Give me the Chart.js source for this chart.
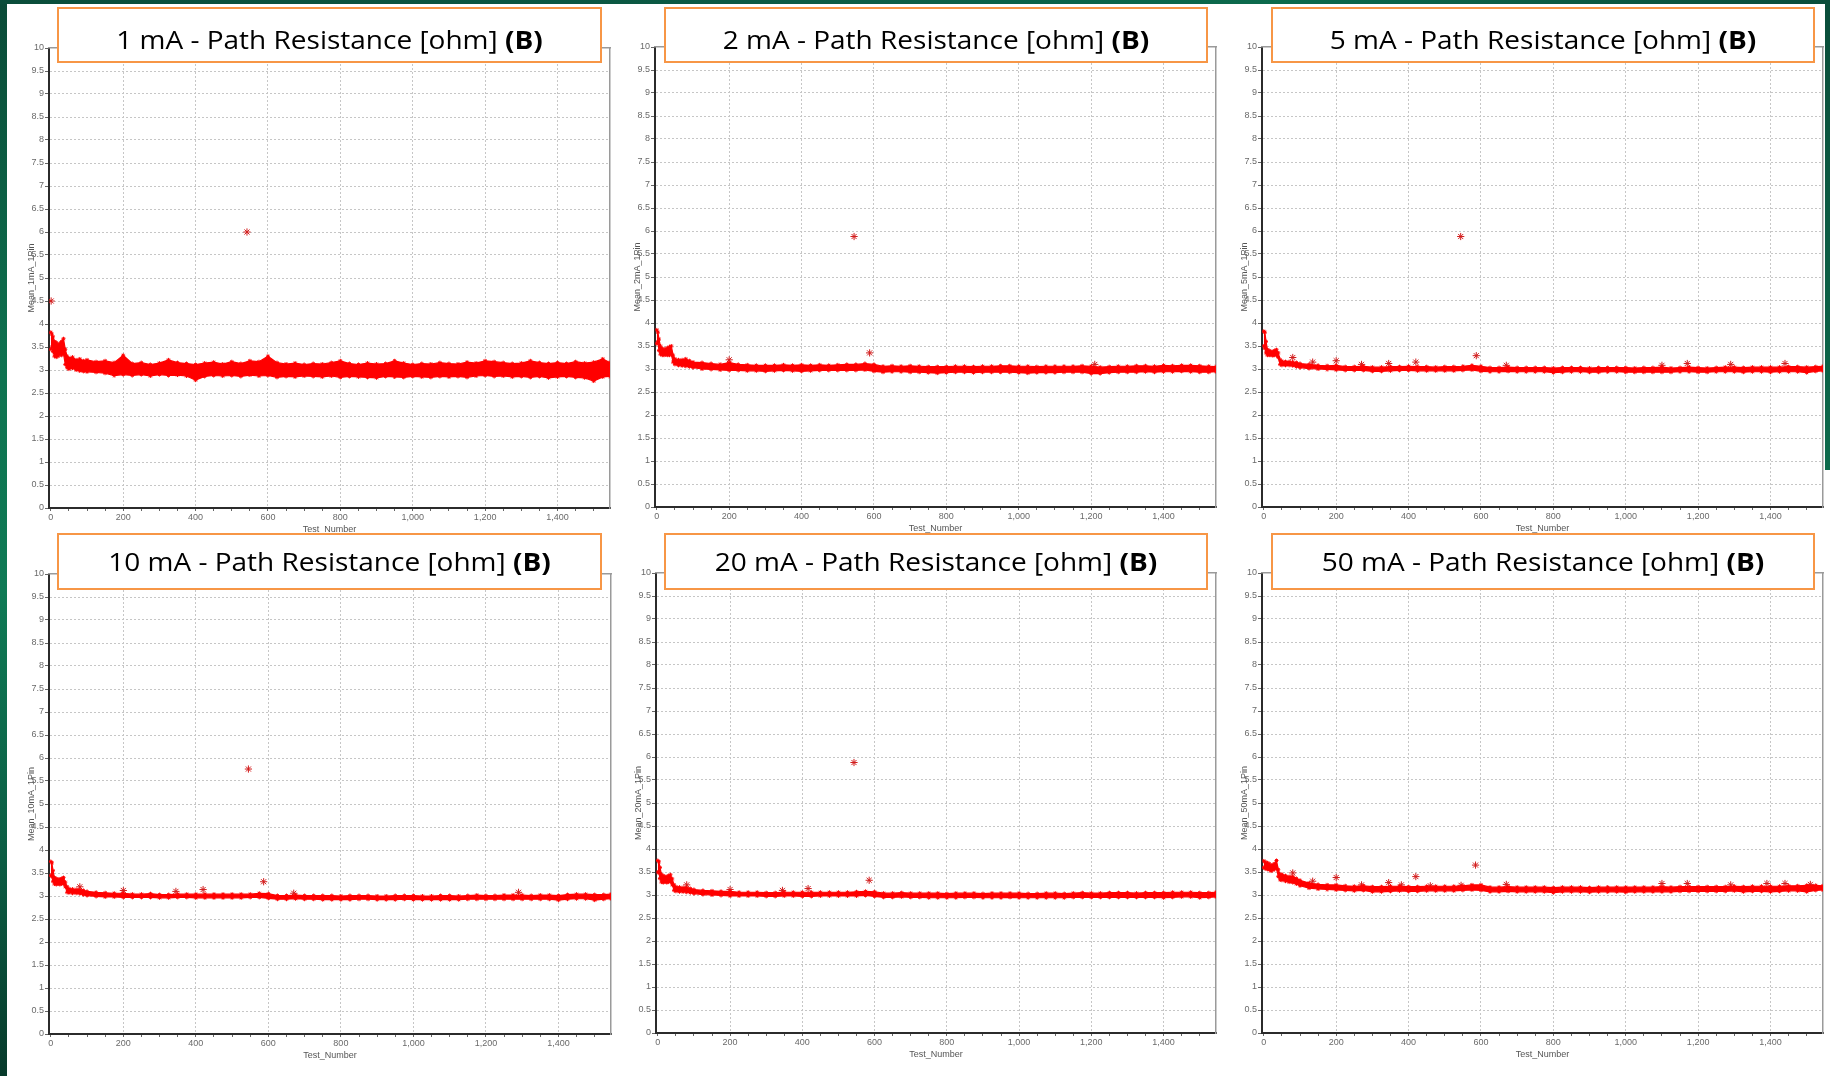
<!DOCTYPE html>
<html><head><meta charset="utf-8">
<script src="https://cdn.jsdelivr.net/npm/chart.js@4.4.1/dist/chart.umd.min.js"></script>
<style>
html,body{margin:0;padding:0;background:#fff;}
body{width:1830px;height:1076px;overflow:hidden;position:relative;}
.strip{position:absolute;z-index:5}
.cv{position:absolute;z-index:1}
.tbox{position:absolute;box-sizing:border-box;border:2px solid #f79646;background:#fff;z-index:3}
.ttext{position:absolute;left:0;right:0;text-align:center;font-family:"Open Sans",sans-serif;font-size:25px;line-height:25px;white-space:nowrap;color:#000;transform:scaleX(1.12);transform-origin:50% 50%}
.ttext b{font-weight:700}
</style></head><body>
<div class="strip" style="left:0;top:0;width:7px;height:1076px;background:linear-gradient(to bottom,#0a4a37 0%,#0e7350 35%,#0f7a55 55%,#0b5c43 80%,#073a2b 100%)"></div>
<div class="strip" style="left:0;top:0;width:1830px;height:4px;background:linear-gradient(to right,#0a4d3a,#0b5a44 40%,#0c6a4c 70%,#0a4d3a)"></div>
<div class="strip" style="left:1825px;top:0;width:5px;height:470px;background:linear-gradient(to bottom,#0a4d3a,#0d6a4c)"></div>
<script>
// ---------- DATA ----------
const PANEL_TITLES = ["1 mA", "2 mA", "5 mA", "10 mA", "20 mA", "50 mA"];
const Y_TITLES = ["Mean_1mA_1Pin", "Mean_2mA_1Pin", "Mean_5mA_1Pin", "Mean_10mA_1Pin", "Mean_20mA_1Pin", "Mean_50mA_1Pin"];
const X_TITLE = "Test_Number";
const Y_TICKS = [0,0.5,1,1.5,2,2.5,3,3.5,4,4.5,5,5.5,6,6.5,7,7.5,8,8.5,9,9.5,10];
const X_TICKS = [0,50,100,150,200,250,300,350,400,450,500,550,600,650,700,750,800,850,900,950,1000,1050,1100,1150,1200,1250,1300,1350,1400,1450,1500];
const X_LABEL_STEP = 200;

// Test numbers at which the red band's upper / lower edges were read
const X_TEST = [0,3,6,10,15,20,25,30,35,40,45,50,60,70,80,90,100,
  125,150,175,200,225,250,275,300,325,350,375,400,425,450,475,500,525,550,575,600,
  625,650,675,700,725,750,775,800,825,850,875,900,925,950,975,1000,1025,1050,1075,1100,
  1125,1150,1175,1200,1225,1250,1275,1300,1325,1350,1375,1400,1425,1450,1475,1500,1525,
  1545];

const HI_1MA = [3.82,3.78,3.72,3.62,3.60,3.55,3.58,3.62,3.68,3.45,3.30,3.26,3.28,3.22,3.24,3.20,3.22,
  3.18,3.20,3.16,3.32,3.14,3.16,3.12,3.15,3.22,3.16,3.14,3.12,3.15,3.17,3.13,3.18,3.14,3.20,3.18,3.30,
  3.16,3.13,3.15,3.12,3.14,3.13,3.16,3.20,3.14,3.12,3.15,3.13,3.14,3.20,3.15,3.12,3.14,3.13,3.16,3.14,
  3.13,3.17,3.15,3.20,3.18,3.16,3.14,3.15,3.20,3.16,3.14,3.16,3.14,3.18,3.15,3.17,3.24,
  3.16];
const LO_1MA = [3.45,3.50,3.40,3.30,3.28,3.30,3.34,3.32,3.36,3.12,3.05,3.02,3.04,3.00,2.98,2.97,2.96,
  2.95,2.93,2.88,2.90,2.88,2.90,2.87,2.90,2.88,2.89,2.87,2.78,2.86,2.88,2.87,2.88,2.86,2.89,2.87,2.88,
  2.84,2.86,2.85,2.87,2.86,2.85,2.87,2.84,2.86,2.85,2.84,2.83,2.86,2.85,2.84,2.86,2.85,2.84,2.86,2.85,
  2.86,2.84,2.87,2.88,2.86,2.87,2.85,2.86,2.84,2.86,2.83,2.85,2.86,2.84,2.83,2.76,2.85,
  2.86];
const OUT_1MA = [[1,4.5],[542,6.0]];

const HI_2MA = [3.85,3.80,3.65,3.50,3.45,3.42,3.44,3.46,3.48,3.50,3.30,3.22,3.20,3.20,3.22,3.18,3.15,
  3.14,3.12,3.10,3.14,3.10,3.09,3.08,3.08,3.08,3.09,3.08,3.09,3.08,3.09,3.08,3.09,3.10,3.10,3.12,3.10,
  3.06,3.07,3.06,3.07,3.06,3.05,3.05,3.05,3.06,3.06,3.05,3.06,3.06,3.07,3.07,3.06,3.06,3.05,3.06,3.06,
  3.06,3.06,3.07,3.06,3.04,3.05,3.06,3.06,3.07,3.07,3.06,3.08,3.07,3.08,3.08,3.07,3.06,
  3.05];
const LO_2MA = [3.55,3.60,3.40,3.32,3.30,3.30,3.31,3.30,3.30,3.32,3.15,3.10,3.08,3.07,3.06,3.05,3.03,
  3.00,2.99,2.98,2.97,2.97,2.96,2.96,2.95,2.96,2.97,2.96,2.95,2.96,2.97,2.97,2.97,2.97,2.97,2.98,2.95,
  2.93,2.94,2.94,2.93,2.93,2.92,2.91,2.92,2.93,2.93,2.92,2.93,2.93,2.93,2.93,2.92,2.91,2.92,2.92,2.92,
  2.93,2.93,2.93,2.90,2.90,2.92,2.93,2.93,2.93,2.94,2.93,2.94,2.94,2.95,2.94,2.93,2.93,
  2.94];
const OUT_2MA = [[545,5.88],[588,3.35],[200,3.2],[1210,3.1]];

const HI_5MA = [3.82,3.80,3.60,3.42,3.40,3.38,3.38,3.40,3.42,3.35,3.20,3.17,3.16,3.16,3.15,3.14,3.12,
  3.10,3.08,3.07,3.08,3.05,3.05,3.06,3.04,3.04,3.05,3.05,3.06,3.05,3.05,3.04,3.05,3.05,3.06,3.08,3.06,
  3.03,3.03,3.04,3.03,3.03,3.03,3.03,3.02,3.03,3.03,3.03,3.02,3.03,3.03,3.03,3.03,3.02,3.03,3.03,3.04,
  3.02,3.03,3.04,3.03,3.02,3.03,3.04,3.04,3.03,3.04,3.04,3.04,3.04,3.05,3.05,3.04,3.05,
  3.06];
const LO_5MA = [3.50,3.45,3.35,3.30,3.30,3.30,3.29,3.30,3.30,3.25,3.10,3.08,3.08,3.08,3.07,3.05,3.03,
  3.01,3.00,2.99,2.98,2.97,2.97,2.97,2.95,2.95,2.96,2.97,2.97,2.96,2.96,2.96,2.96,2.96,2.97,2.98,2.95,
  2.94,2.94,2.95,2.94,2.94,2.94,2.94,2.92,2.93,2.94,2.94,2.93,2.93,2.94,2.94,2.93,2.93,2.93,2.93,2.93,
  2.93,2.94,2.94,2.93,2.93,2.94,2.94,2.94,2.93,2.94,2.94,2.93,2.94,2.94,2.94,2.92,2.95,
  2.96];
const OUT_5MA = [[544,5.88],[587,3.29],[80,3.25],[135,3.15],[200,3.18],[270,3.1],[345,3.12],[420,3.15],[670,3.08],[1100,3.08],[1170,3.12],[1290,3.1],[1440,3.12]];

const HI_10MA = [3.75,3.72,3.55,3.40,3.38,3.36,3.37,3.38,3.40,3.30,3.20,3.16,3.15,3.14,3.14,3.12,3.10,
  3.08,3.07,3.06,3.06,3.04,3.04,3.05,3.03,3.03,3.04,3.04,3.04,3.04,3.04,3.04,3.04,3.04,3.04,3.06,3.05,
  3.01,3.01,3.02,3.01,3.01,3.01,3.01,3.00,3.01,3.01,3.01,3.00,3.00,3.01,3.01,3.01,3.00,3.00,3.01,3.01,
  3.00,3.01,3.02,3.01,3.01,3.02,3.02,3.02,3.01,3.02,3.02,3.01,3.03,3.04,3.04,3.03,3.03,
  3.04];
const LO_10MA = [3.45,3.42,3.32,3.26,3.25,3.26,3.25,3.26,3.27,3.20,3.08,3.07,3.06,3.06,3.05,3.03,3.01,
  2.99,2.98,2.98,2.97,2.97,2.97,2.97,2.96,2.96,2.97,2.97,2.96,2.96,2.96,2.96,2.96,2.96,2.97,2.97,2.95,
  2.93,2.93,2.94,2.93,2.93,2.92,2.92,2.92,2.92,2.93,2.93,2.92,2.92,2.92,2.93,2.92,2.92,2.92,2.92,2.92,
  2.92,2.93,2.93,2.93,2.93,2.93,2.93,2.93,2.93,2.93,2.93,2.91,2.93,2.94,2.94,2.91,2.93,
  2.94];
const OUT_10MA = [[545,5.76],[587,3.31],[80,3.2],[200,3.12],[345,3.1],[420,3.14],[670,3.06],[1290,3.08]];

const HI_20MA = [3.75,3.72,3.60,3.45,3.42,3.40,3.40,3.42,3.44,3.35,3.22,3.18,3.17,3.16,3.16,3.14,3.12,
  3.10,3.09,3.08,3.08,3.06,3.06,3.06,3.05,3.05,3.06,3.06,3.06,3.06,3.06,3.06,3.06,3.06,3.07,3.08,3.07,
  3.04,3.04,3.05,3.04,3.04,3.04,3.04,3.03,3.04,3.04,3.04,3.03,3.04,3.04,3.04,3.04,3.03,3.03,3.04,3.04,
  3.03,3.04,3.05,3.04,3.04,3.05,3.05,3.05,3.04,3.05,3.05,3.05,3.06,3.06,3.06,3.05,3.05,
  3.06];
const LO_20MA = [3.50,3.48,3.36,3.28,3.27,3.28,3.27,3.28,3.29,3.22,3.10,3.08,3.07,3.07,3.06,3.05,3.03,
  3.01,3.00,2.99,2.98,2.98,2.98,2.98,2.97,2.97,2.98,2.98,2.97,2.97,2.98,2.98,2.98,2.98,2.98,2.99,2.97,
  2.95,2.95,2.96,2.95,2.95,2.94,2.94,2.94,2.94,2.95,2.95,2.94,2.94,2.94,2.95,2.94,2.94,2.94,2.94,2.94,
  2.94,2.95,2.95,2.95,2.95,2.95,2.95,2.95,2.95,2.95,2.95,2.94,2.95,2.96,2.96,2.94,2.95,
  2.96];
const OUT_20MA = [[543,5.88],[585,3.32],[416,3.14],[80,3.22],[200,3.12],[345,3.1]];

const HI_50MA = [3.74,3.72,3.70,3.70,3.68,3.64,3.66,3.68,3.75,3.55,3.45,3.45,3.42,3.40,3.40,3.36,3.32,
  3.26,3.23,3.22,3.22,3.20,3.19,3.20,3.18,3.18,3.19,3.19,3.18,3.18,3.19,3.19,3.19,3.19,3.20,3.22,3.22,
  3.17,3.17,3.18,3.17,3.17,3.17,3.17,3.16,3.17,3.17,3.17,3.16,3.17,3.17,3.17,3.17,3.17,3.17,3.17,3.18,
  3.17,3.18,3.18,3.18,3.18,3.18,3.18,3.19,3.18,3.19,3.19,3.19,3.19,3.20,3.20,3.21,3.21,
  3.20];
const LO_50MA = [3.60,3.58,3.57,3.56,3.55,3.52,3.54,3.56,3.58,3.40,3.33,3.32,3.30,3.28,3.27,3.24,3.20,
  3.15,3.13,3.12,3.11,3.10,3.09,3.10,3.07,3.07,3.08,3.09,3.08,3.08,3.09,3.09,3.09,3.09,3.10,3.11,3.10,
  3.07,3.07,3.08,3.07,3.07,3.07,3.07,3.05,3.07,3.07,3.07,3.06,3.07,3.07,3.07,3.06,3.07,3.07,3.07,3.07,
  3.07,3.08,3.08,3.08,3.08,3.08,3.08,3.09,3.07,3.08,3.08,3.07,3.08,3.09,3.09,3.07,3.10,
  3.11];
const OUT_50MA = [[420,3.4],[585,3.65],[80,3.48],[135,3.3],[200,3.38],[270,3.22],[345,3.27],[380,3.22],[460,3.2],[545,3.21],[670,3.23],[1100,3.25],[1170,3.25],[1290,3.22],[1390,3.25],[1440,3.25],[1510,3.23]];

const X_MIN = -5, X_MAX = 1545, Y_MIN = 0, Y_MAX = 10;

// ---------- LAYOUT (plot-area rectangles and title boxes) ----------
const HI = [HI_1MA, HI_2MA, HI_5MA, HI_10MA, HI_20MA, HI_50MA];
const LO = [LO_1MA, LO_2MA, LO_5MA, LO_10MA, LO_20MA, LO_50MA];
const OUT = [OUT_1MA, OUT_2MA, OUT_5MA, OUT_10MA, OUT_20MA, OUT_50MA];
const AREAS = [
  {l:49, r:610, t:48, b:508}, {l:655, r:1216, t:47, b:507}, {l:1262, r:1823, t:47, b:507},
  {l:49, r:611, t:574, b:1034}, {l:656, r:1216, t:573, b:1033}, {l:1262, r:1823, t:573, b:1033}
];
const BOX_X = [[57,602],[664,1208],[1271,1815]];
const BOX_ROW = [{top:7, h:56, textTop:18.0}, {top:533, h:57, textTop:14.3}];

const YW = 26, XH = 27, PT = 10, PR = 6;
const RED = '#ff0000';
const GRID = '#c6c6c6';
const TICKFONT = {family:'"Liberation Sans Narrow","Liberation Sans",Arial,sans-serif', size:9};

function buildPanel(i) {
  const a = AREAS[i];
  const cv = document.createElement('canvas');
  const left = a.l - YW, top = a.t - PT;
  const w = a.r + PR - left, h = a.b + XH - top;
  cv.width = w; cv.height = h;
  cv.className = 'cv';
  cv.style.left = left + 'px'; cv.style.top = top + 'px';
  cv.style.width = w + 'px'; cv.style.height = h + 'px';
  document.body.appendChild(cv);

  const hiPts = X_TEST.map((x, k) => ({x: x, y: HI[i][k]}));
  const loPts = X_TEST.map((x, k) => ({x: x, y: LO[i][k]}));
  const outPts = OUT[i].map(p => ({x: p[0], y: p[1]}));

  new Chart(cv, {
    type: 'scatter',
    data: { datasets: [
      { data: loPts, showLine: true, fill: false, borderColor: RED, borderWidth: 1.2, tension: 0,
        pointStyle: 'star', pointRadius: 2, pointBorderColor: RED, pointBackgroundColor: RED, pointBorderWidth: 1 },
      { data: hiPts, showLine: true, fill: '-1', backgroundColor: RED, borderColor: RED, borderWidth: 1.2, tension: 0,
        pointStyle: 'star', pointRadius: 2, pointBorderColor: RED, pointBackgroundColor: RED, pointBorderWidth: 1 },
      { data: outPts, showLine: false, pointStyle: 'star', pointRadius: 3.6, pointBorderColor: '#d21c1c',
        pointBackgroundColor: '#d21c1c', pointBorderWidth: 1 }
    ]},
    options: {
      responsive: false, animation: false, devicePixelRatio: 1, events: [],
      layout: { padding: { left: 0, right: PR, top: PT, bottom: 0 } },
      plugins: { legend: { display: false }, tooltip: { enabled: false } },
      scales: {
        x: {
          type: 'linear', position: 'bottom', min: X_MIN, max: X_MAX,
          afterBuildTicks: s => { s.ticks = X_TICKS.map(v => ({value: v})); },
          afterFit: s => { s.height = XH; },
          ticks: { autoSkip: false, maxRotation: 0, minRotation: 0, padding: 1, color: '#6a6a6a', font: TICKFONT,
                   callback: v => (v % X_LABEL_STEP === 0 ? Number(v).toLocaleString('en-US') : '') },
          grid: { color: c => (c.tick && c.tick.value % X_LABEL_STEP === 0 && c.tick.value !== 0) ? GRID : 'rgba(0,0,0,0)',
                  lineWidth: 1, tickLength: 3, tickColor: '#666', tickWidth: 1 },
          border: { display: true, color: '#2b2b2b', width: 2, dash: [2, 2] },
          title: { display: true, text: X_TITLE, color: '#555', font: TICKFONT, padding: {top: 0, bottom: 0} }
        },
        y: {
          type: 'linear', position: 'left', min: Y_MIN, max: Y_MAX,
          afterBuildTicks: s => { s.ticks = Y_TICKS.map(v => ({value: v})); },
          afterFit: s => { s.width = YW; },
          ticks: { autoSkip: false, padding: 1, color: '#6a6a6a', font: TICKFONT, callback: v => String(v) },
          grid: { color: c => (c.tick && c.tick.value > Y_MIN && c.tick.value < Y_MAX) ? GRID : 'rgba(0,0,0,0)',
                  lineWidth: 1, tickLength: 4, tickColor: '#666', tickWidth: 1 },
          border: { display: true, color: '#2b2b2b', width: 2, dash: [2, 2] },
          title: { display: true, text: Y_TITLES[i], color: '#555', font: TICKFONT, padding: {top: 3, bottom: 0} }
        },
        x2: {
          type: 'linear', position: 'top', min: X_MIN, max: X_MAX,
          ticks: { display: false }, grid: { display: false, drawTicks: false },
          border: { display: true, color: '#9a9a9a', width: 1.5 },
          afterFit: s => { s.height = 0; }
        },
        y2: {
          type: 'linear', position: 'right', min: Y_MIN, max: Y_MAX,
          ticks: { display: false }, grid: { display: false, drawTicks: false },
          border: { display: true, color: '#9a9a9a', width: 1.5 },
          afterFit: s => { s.width = 0; }
        }
      }
    }
  });

  // title box
  const row = BOX_ROW[Math.floor(i / 3)], bx = BOX_X[i % 3];
  const box = document.createElement('div');
  box.className = 'tbox';
  box.style.left = bx[0] + 'px'; box.style.top = row.top + 'px';
  box.style.width = (bx[1] - bx[0]) + 'px'; box.style.height = row.h + 'px';
  const t = document.createElement('div');
  t.className = 'ttext';
  t.style.top = row.textTop + 'px';
  t.appendChild(document.createTextNode(PANEL_TITLES[i] + ' - Path Resistance [ohm] '));
  const b = document.createElement('b'); b.textContent = '(B)';
  t.appendChild(b);
  box.appendChild(t);
  document.body.appendChild(box);
}
for (let i = 0; i < 6; i++) buildPanel(i);
</script>
</body></html>
